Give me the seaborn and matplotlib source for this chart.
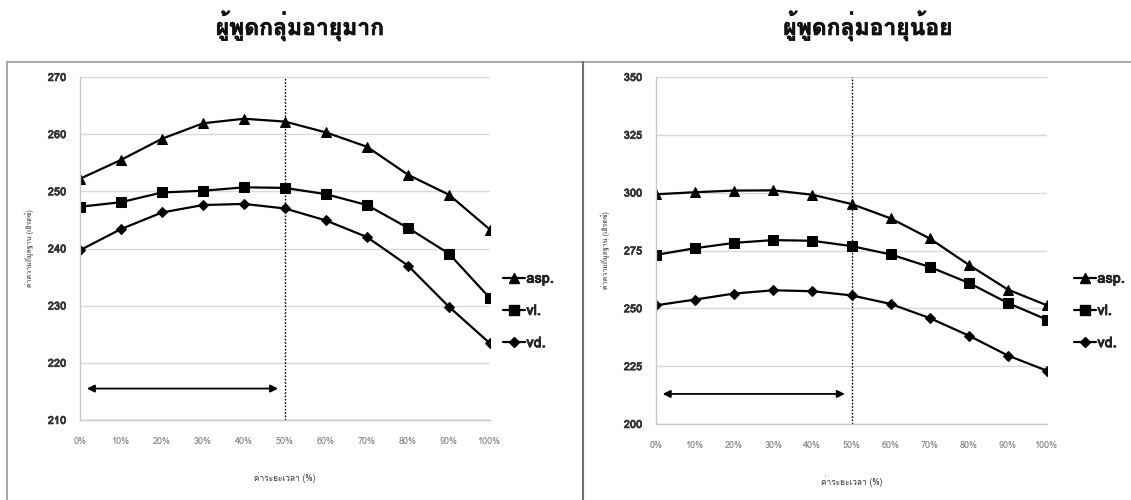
import matplotlib
matplotlib.use("Agg")
import matplotlib.pyplot as plt
from matplotlib import font_manager
from matplotlib.lines import Line2D
import matplotlib.patheffects as pe
import numpy as np
import pandas as pd
import seaborn as sns

# ---- data ----
positions = [0, 10, 20, 30, 40, 50, 60, 70, 80, 90, 100]
tick_labels = ["0%", "10%", "20%", "30%", "40%", "50%", "60%", "70%", "80%", "90%", "100%"]
series_names = ["asp.", "vl.", "vd."]

old_asp = [252.2, 255.5, 259.2, 261.9, 262.7, 262.2, 260.3, 257.8, 252.9, 249.4, 243.3]
old_vl = [247.3, 248.1, 249.8, 250.1, 250.7, 250.6, 249.5, 247.6, 243.6, 239.1, 231.3]
old_vd = [239.7, 243.4, 246.3, 247.6, 247.8, 247.0, 244.9, 242.0, 237.0, 229.8, 223.4]

young_asp = [299.3, 300.2, 300.9, 301.0, 299.1, 295.1, 288.9, 280.2, 268.8, 258.1, 251.3]
young_vl = [273.1, 276.0, 278.3, 279.5, 279.2, 276.9, 273.3, 267.9, 261.0, 252.3, 245.1]
young_vd = [251.3, 253.8, 256.4, 257.8, 257.4, 255.6, 251.9, 245.8, 238.2, 229.6, 223.0]

panel_titles = ["ผู้พูดกลุ่มอายุมาก", "ผู้พูดกลุ่มอายุน้อย"]
y_label = "ค่าความถี่มูลฐาน (เฮิรตซ์)"
x_label = "ค่าระยะเวลา (%)"
old_yticks = [210, 220, 230, 240, 250, 260, 270]
young_yticks = [200, 225, 250, 275, 300, 325, 350]
split_position = 50
arrow_start, arrow_end = 1, 49
old_arrow_y = 215.5
young_arrow_y = 213.0


def thai_family():
    try:
        from fontTools.ttLib import TTFont
    except Exception:
        return None
    for f in font_manager.fontManager.ttflist:
        try:
            tt = TTFont(f.fname, fontNumber=0, lazy=True)
            cmap = tt.getBestCmap()
            if cmap and 0x0E1C in cmap:
                return f.name
        except Exception:
            continue
    return None


sns.set_theme(style="white")
thai = thai_family()
families = [thai, "DejaVu Sans"] if thai else ["DejaVu Sans"]
plt.rcParams["font.family"] = families

# slight stroke to give a heavier face to bold text
heavy = [pe.withStroke(linewidth=0.45, foreground="#111111")]
semi = [pe.withStroke(linewidth=0.4, foreground="#333333")]


def long_frame(asp, vl, vd):
    rows = []
    for name, vals in zip(series_names, [asp, vl, vd]):
        for p, v in zip(positions, vals):
            rows.append({"pos": p, "value": v, "series": name})
    return pd.DataFrame(rows)


marker_styles = {"asp.": ("^", 7), "vl.": ("s", 7.5), "vd.": ("D", 5)}

fig = plt.figure(figsize=(11.31, 5.0), dpi=100)
W, H = 1131, 500

# panel frames
frame_color = "#9a9a9a"
fig.add_artist(Line2D([7 / W, 7 / W], [0, 1 - 62 / H], transform=fig.transFigure, color=frame_color, lw=1.2))
fig.add_artist(Line2D([7 / W, 1], [1 - 62 / H, 1 - 62 / H], transform=fig.transFigure, color=frame_color, lw=1.2))
fig.add_artist(Line2D([583 / W, 583 / W], [0, 1 - 62 / H], transform=fig.transFigure, color="#707070", lw=1.5))

panels = [
    dict(frame=long_frame(old_asp, old_vl, old_vd), rect=[80 / W, 80 / H, 410 / W, 343 / H],
         ylim=(210, 270), yticks=old_yticks, arrow_y=old_arrow_y, title=panel_titles[0],
         title_x=300 / W, legend_x=503 / W),
    dict(frame=long_frame(young_asp, young_vl, young_vd), rect=[656 / W, 76 / H, 391 / W, 347 / H],
         ylim=(200, 350), yticks=young_yticks, arrow_y=young_arrow_y, title=panel_titles[1],
         title_x=868 / W, legend_x=1074 / W),
]

for p in panels:
    ax = fig.add_axes(p["rect"])
    df = p["frame"]
    for name in series_names:
        m, ms = marker_styles[name]
        sns.lineplot(data=df[df["series"] == name], x="pos", y="value", ax=ax,
                     color="black", lw=1.6, marker=m, markersize=ms,
                     markeredgecolor="black", markerfacecolor="black", label=name, legend=False)
    ax.set_xlim(0, 100)
    ax.set_ylim(*p["ylim"])
    ax.set_xticks(positions)
    ax.set_xticklabels(tick_labels, fontsize=6.5, color="#777777")
    ax.set_yticks(p["yticks"])
    ax.set_yticklabels([str(t) for t in p["yticks"]], fontsize=8, color="#333333", fontweight="bold")
    for t in ax.get_yticklabels():
        t.set_path_effects(semi)
    ax.yaxis.grid(True, color="#d9d9d9", lw=1.0)
    ax.xaxis.grid(False)
    for side in ["top", "right"]:
        ax.spines[side].set_visible(False)
    for side in ["left", "bottom"]:
        ax.spines[side].set_color("#c8c8c8")
        ax.spines[side].set_linewidth(1.0)
    ax.tick_params(axis="both", direction="out", length=4, width=0.8, color="#c8c8c8")
    ax.tick_params(axis="y", pad=6)
    ax.tick_params(axis="x", pad=8)
    ax.set_xlabel(x_label, fontsize=6, color="#333333", labelpad=19)
    ax.set_ylabel(y_label, fontsize=5, color="#333333", labelpad=10)
    ax.axvline(split_position, color="black", lw=1.0, ls=(0, (1.2, 1.2)), zorder=1)
    ax.annotate("", xy=(arrow_start, p["arrow_y"]), xytext=(arrow_end, p["arrow_y"]),
                arrowprops=dict(arrowstyle="<|-|>", color="black", lw=1.3, mutation_scale=11))
    ax.set_facecolor("none")
    fig.text(p["title_x"], 1 - 26 / H, p["title"], ha="center", va="center",
             fontsize=16.5, fontweight="bold", color="#111111", path_effects=heavy)
    handles = [Line2D([], [], color="black", lw=1.6, marker=marker_styles[n][0],
                      markersize=marker_styles[n][1] * 0.95, markerfacecolor="black") for n in series_names]
    leg = fig.legend(handles, series_names, loc="center left",
                     bbox_to_anchor=(p["legend_x"], 1 - 311 / H), frameon=False,
                     handlelength=1.5, handletextpad=0.1, labelspacing=1.25,
                     prop=dict(size=10.5, weight="bold"), borderaxespad=0, borderpad=0)
    for t in leg.get_texts():
        t.set_path_effects(heavy)

fig.savefig("out.png", dpi=100, facecolor="white")
